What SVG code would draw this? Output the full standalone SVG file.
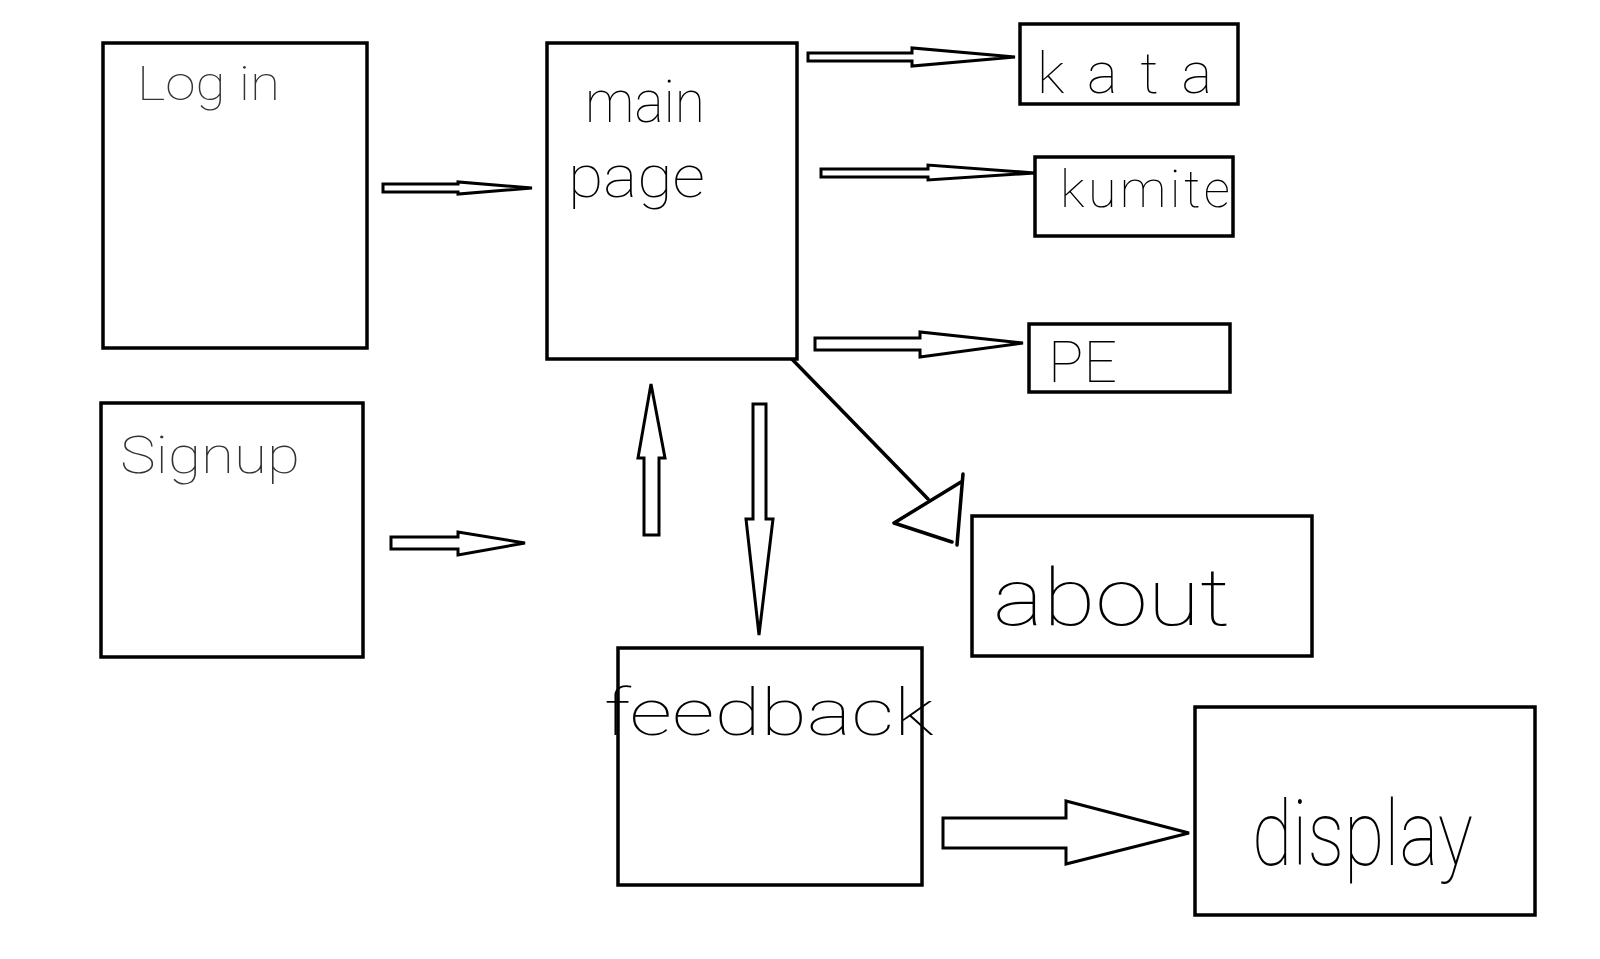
<svg xmlns="http://www.w3.org/2000/svg" width="1600" height="959" viewBox="0 0 1600 959">
  <style>
    .box { fill: #ffffff; stroke: #000000; stroke-width: 3.5; }
    .arrow { fill: #ffffff; stroke: #000000; stroke-width: 3; stroke-linejoin: miter; }
    .line { fill: none; stroke: #000000; stroke-width: 3.5; stroke-linecap: round; stroke-linejoin: round; }
    .label { font-family: Roboto, Lato, "Open Sans", "Liberation Sans", sans-serif; font-weight: 100; fill: #000000; }
    .faint { fill: #333333; }
  </style>

  <rect x="0" y="0" width="1600" height="959" fill="#ffffff"/>

  <!-- connectors -->
  <g id="connectors">
    <!-- log in -> main page -->
    <polygon class="arrow" stroke-width="2.5" points="383,184 458,184 458,182 532,188 458,194 458,192 383,192"/>
    <!-- sign up -> main page -->
    <polygon class="arrow" points="391,537 458,537 458,532 525,543 458,555 458,549 391,549"/>
    <!-- main page -> kata -->
    <polygon class="arrow" points="808,53 912,53 912,48 1015,57 912,66 912,61 808,61"/>
    <!-- main page -> kumite -->
    <polygon class="arrow" points="821,169 928,169 928,165 1035,173 928,180 928,177 821,177"/>
    <!-- main page -> PE -->
    <polygon class="arrow" points="815,338 920,338 920,332 1023,343 920,357 920,350 815,350"/>
    <!-- feedback -> main page (up) -->
    <polygon class="arrow" points="644,535 644,458 638,458 651,384 665,458 659,458 659,535"/>
    <!-- main page -> feedback (down) -->
    <polygon class="arrow" points="753,404 766,404 766,519 773,519 759,635 746,519 753,519"/>
    <!-- feedback -> display -->
    <polygon class="arrow" stroke-width="4" points="943,818 1066,818 1066,801 1189,833 1066,864 1066,848 943,848"/>
    <!-- main page -> about -->
    <line class="line" x1="787" y1="354" x2="928" y2="499"/>
    <polyline class="line" points="961,482 894,523 952,542"/>
    <line class="line" x1="963" y1="474" x2="957" y2="545"/>
  </g>

  <g id="login">
    <rect class="box" x="103" y="43" width="264" height="305"/>
    <text class="label faint" x="137" y="100" font-size="48" textLength="143" lengthAdjust="spacingAndGlyphs">Log in</text>
  </g>

  <g id="signup">
    <rect class="box" x="101" y="403" width="262" height="254"/>
    <text class="label faint" x="120" y="473" font-size="52" textLength="180" lengthAdjust="spacingAndGlyphs">Signup</text>
  </g>

  <g id="main-page">
    <rect class="box" x="547" y="43" width="250" height="316"/>
    <text class="label" x="585" y="122" font-size="60" textLength="120" lengthAdjust="spacingAndGlyphs">main</text>
    <text class="label" x="568" y="197" font-size="60" textLength="137" lengthAdjust="spacingAndGlyphs">page</text>
  </g>

  <g id="kata">
    <rect class="box" x="1020" y="24" width="218" height="80"/>
    <text class="label" x="1037" y="93" font-size="58" textLength="175" lengthAdjust="spacing">kata</text>
  </g>

  <g id="kumite">
    <rect class="box" x="1035" y="157" width="198" height="79"/>
    <text class="label" x="1060" y="207" font-size="52" textLength="170" lengthAdjust="spacing">kumite</text>
  </g>

  <g id="pe">
    <rect class="box" x="1029" y="324" width="201" height="68"/>
    <text class="label" x="1048" y="382" font-size="58" textLength="69" lengthAdjust="spacingAndGlyphs">PE</text>
  </g>

  <g id="about">
    <rect class="box" x="972" y="516" width="340" height="140"/>
    <text class="label" x="993" y="625" font-size="80" textLength="237" lengthAdjust="spacingAndGlyphs">about</text>
  </g>

  <g id="feedback">
    <rect class="box" x="618" y="648" width="304" height="237"/>
    <text class="label" x="604" y="735" font-size="64" textLength="330" lengthAdjust="spacingAndGlyphs">feedback</text>
  </g>

  <g id="display">
    <rect class="box" x="1195" y="707" width="340" height="208"/>
    <text class="label" x="1252" y="865" font-size="90" textLength="221" lengthAdjust="spacingAndGlyphs">display</text>
  </g>
</svg>
